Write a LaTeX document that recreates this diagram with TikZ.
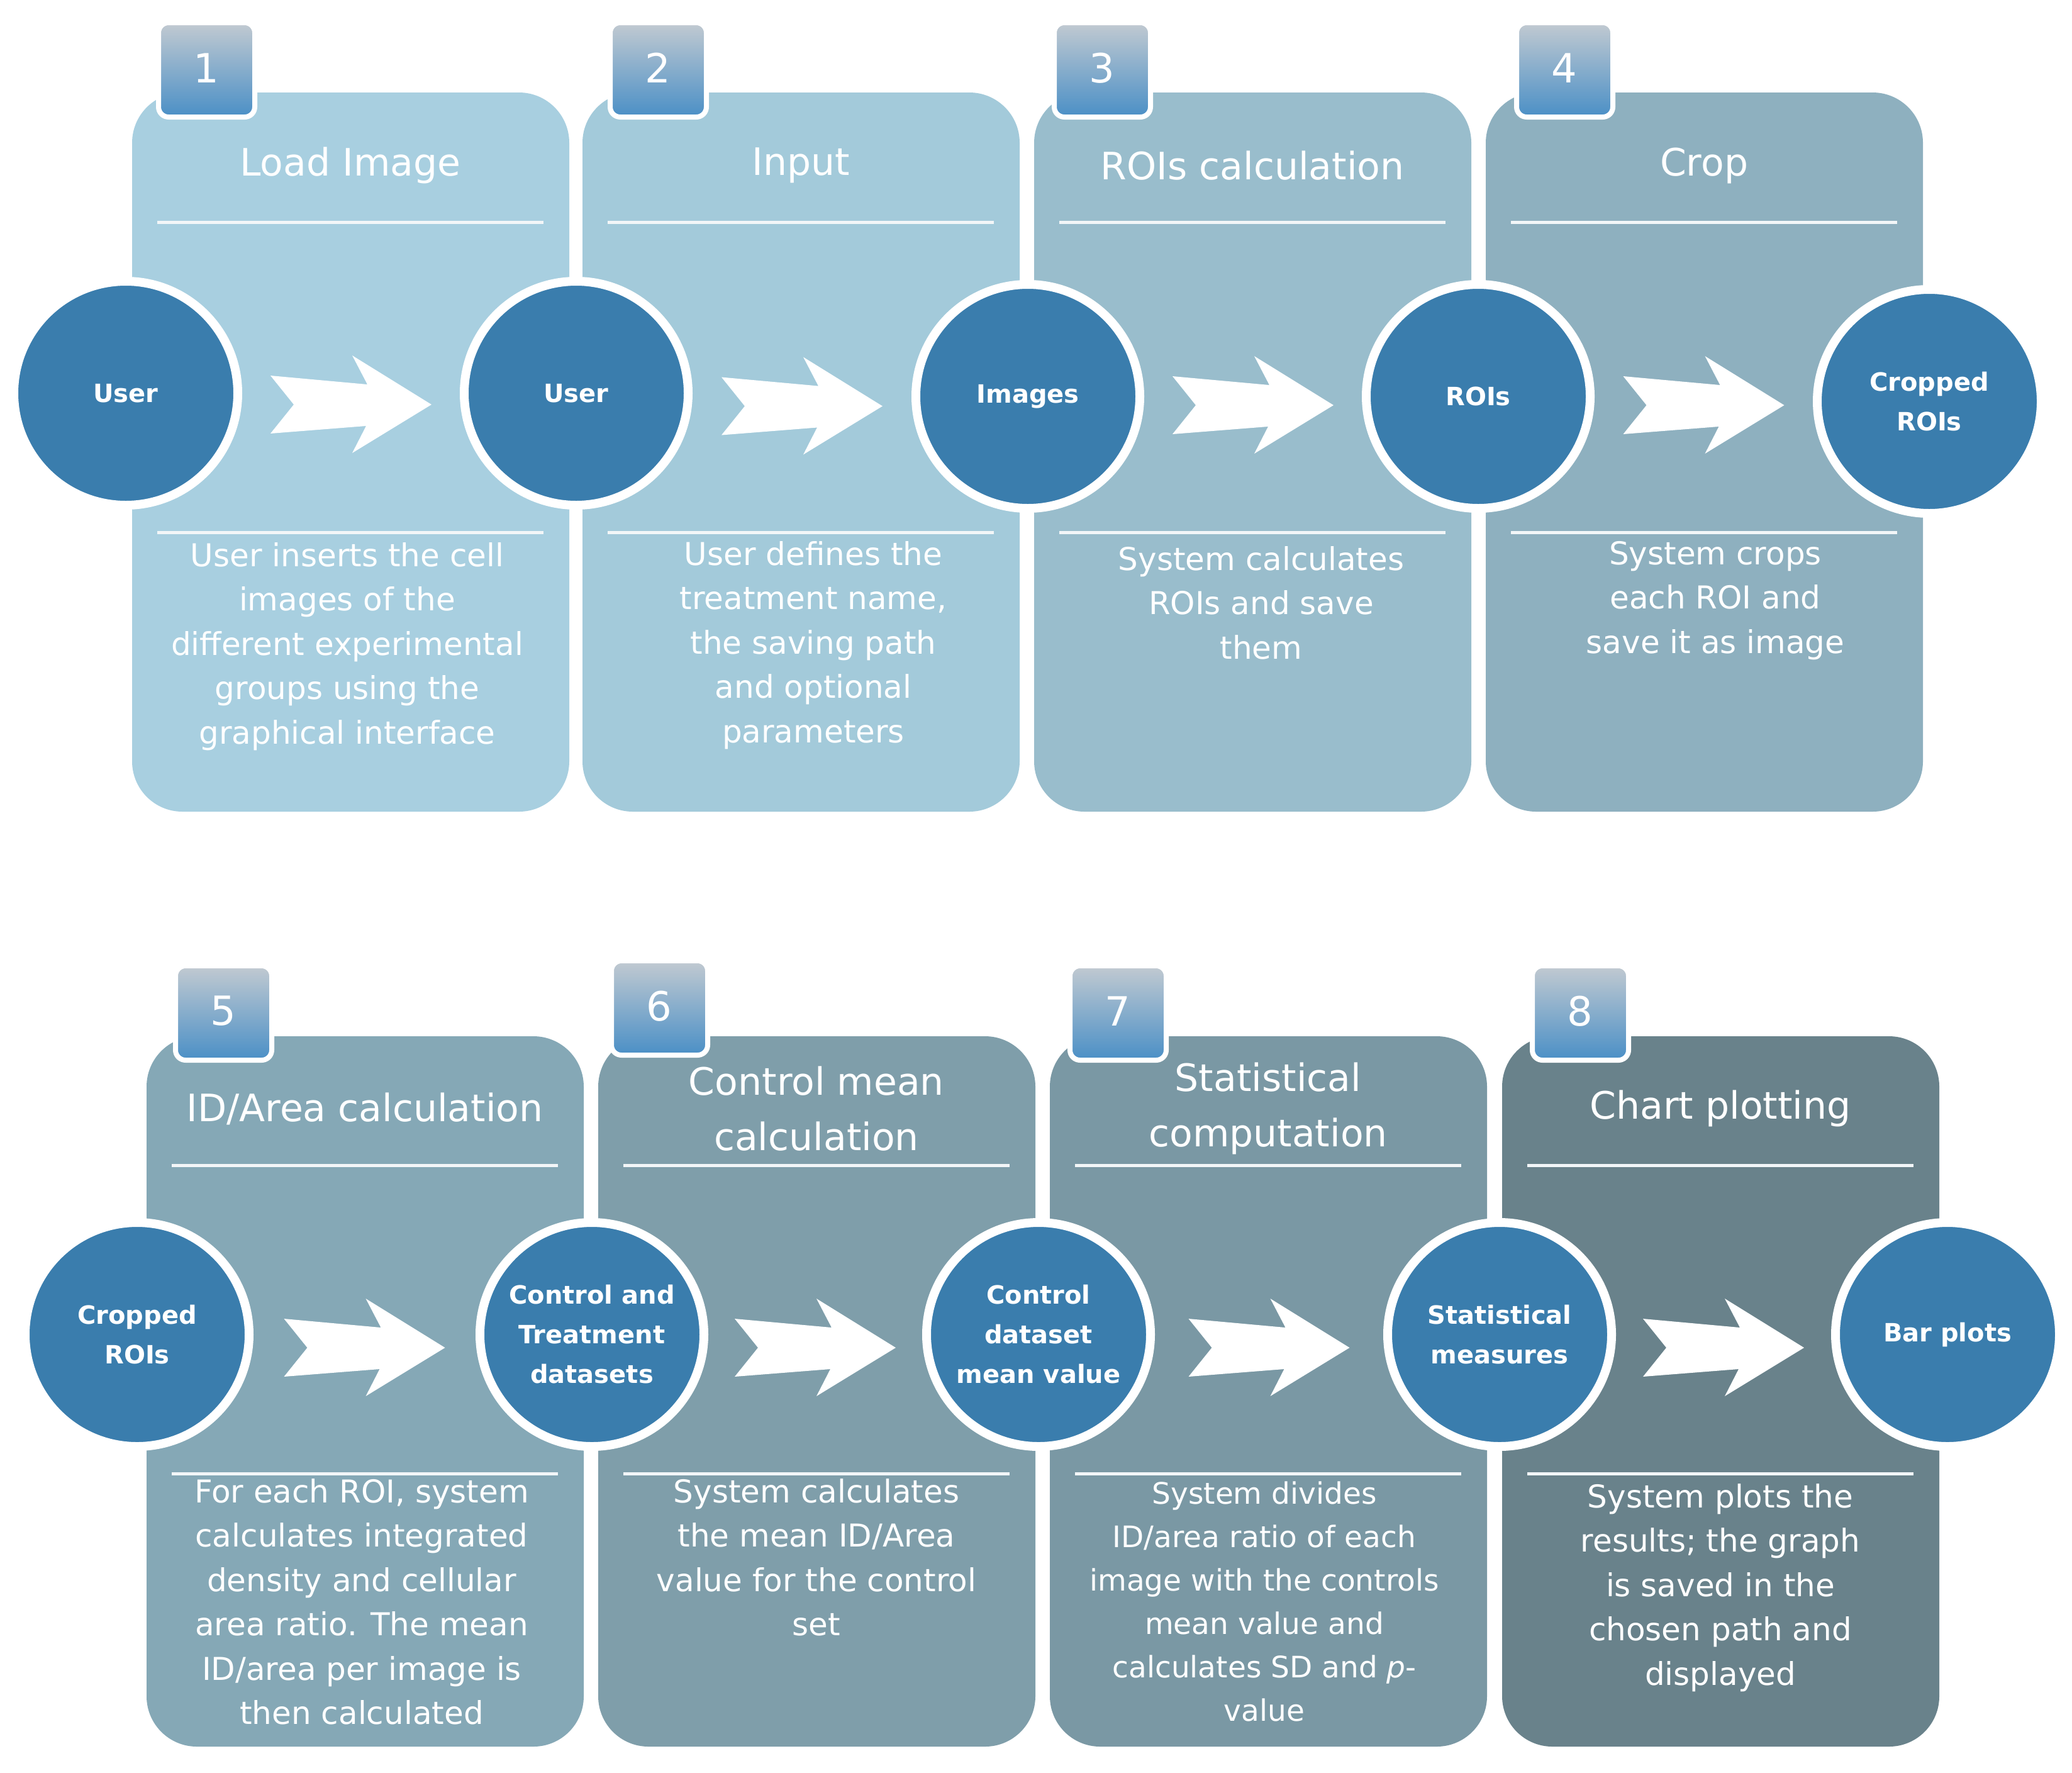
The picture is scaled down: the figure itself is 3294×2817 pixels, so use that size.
\documentclass[tikz,border=0pt]{standalone}
\usepackage{fontspec}
\setmainfont{DejaVu Sans}
\usetikzlibrary{calc}
\definecolor{pA}{HTML}{A8CFE0}
\definecolor{pB}{HTML}{A3CADA}
\definecolor{pC}{HTML}{99BDCC}
\definecolor{pD}{HTML}{8EB0BF}
\definecolor{pE}{HTML}{85A8B6}
\definecolor{pF}{HTML}{7F9EAA}
\definecolor{pG}{HTML}{7A98A4}
\definecolor{pH}{HTML}{69828B}
\definecolor{circ}{HTML}{3A7DAD}
\definecolor{tabtop}{HTML}{C2CAD1}
\definecolor{tabbot}{HTML}{4A8FC6}
\definecolor{rule}{HTML}{F2F6F8}
\tikzset{
  x=1pt,y=-1pt,
  panel/.style={fill=#1,draw=none,rounded corners=80pt},
  tab/.style={top color=tabtop,bottom color=tabbot,draw=white,line width=8pt,rounded corners=16pt},
  tabnum/.style={text=white,font=\fontsize{64}{64}\selectfont,inner sep=0pt},
  ttl/.style={text=white,font=\fontsize{60}{88}\selectfont,align=center,inner sep=0pt},
  rl/.style={draw=rule,line width=5pt},
  circ/.style={circle,fill=circ,draw=white,line width=14pt,minimum size=356pt,inner sep=0pt,
    text=white,font=\bfseries\fontsize{40}{63}\selectfont,align=center},
  desc/.style={text=white,font=\fontsize{50}{70.5}\selectfont,align=center,inner sep=0pt,anchor=north},
  chev/.style={fill=white,draw=none}
}
\newcommand{\chevron}[1]{%
  \fill[white] ($#1+(-128,-46)$) -- ++(37,46) -- ++(-37,46) -- ++(152,-12) -- ++(-22,43)
    -- ++(126,-77) -- ++(-126,-78) -- ++(24,46) -- cycle;}
\begin{document}
\begin{tikzpicture}
\useasboundingbox (0,0) rectangle (3294,2817);
% ---------- row 1 panels
\path[panel=pA] (210,147) rectangle (905,1290);
\path[panel=pB] (926,147) rectangle (1621,1290);
\path[panel=pC] (1644,147) rectangle (2339,1290);
\path[panel=pD] (2362,147) rectangle (3057,1290);
% ---------- row 2 panels
\path[panel=pE] (233,1647) rectangle (928,2776);
\path[panel=pF] (951,1647) rectangle (1646,2776);
\path[panel=pG] (1669,1647) rectangle (2364,2776);
\path[panel=pH] (2388,1647) rectangle (3083,2776);
% ---------- tabs
\draw[tab] (252,36) rectangle (405,186);  \node[tabnum] (n1) at (328,108) {1};
\draw[tab] (970,36) rectangle (1123,186); \node[tabnum] (n2) at (1046,108) {2};
\draw[tab] (1676,36) rectangle (1829,186);\node[tabnum] (n3) at (1752,108) {3};
\draw[tab] (2411,36) rectangle (2564,186);\node[tabnum] (n4) at (2487,108) {4};
\draw[tab] (279,1535) rectangle (432,1685); \node[tabnum] (n5) at (355,1607) {5};
\draw[tab] (972,1527) rectangle (1125,1677);\node[tabnum] (n6) at (1048,1599) {6};
\draw[tab] (1701,1535) rectangle (1854,1685);\node[tabnum] (n7) at (1777,1607) {7};
\draw[tab] (2436,1535) rectangle (2589,1685);\node[tabnum] (n8) at (2512,1607) {8};
% ---------- titles
\node[ttl] (t1) at (557,263) {Load Image};
\node[ttl] (t2) at (1273,263) {Input};
\node[ttl] (t3) at (1991,263) {ROIs calculation};
\node[ttl] (t4) at (2709,263) {Crop};
\node[ttl] (t5) at (580,1762) {ID/Area calculation};
\node[ttl] (t6) at (1298,1762) {Control mean\\calculation};
\node[ttl] (t7) at (2016,1762) {Statistical\\computation};
\node[ttl] (t8) at (2735,1762) {Chart plotting};
% ---------- rules
\foreach \a in {210,926,1644,2362}{
  \draw[rl] (\a+40,353) -- (\a+654,353);
  \draw[rl] (\a+40,846) -- (\a+654,846);}
\foreach \a in {233,951,1669,2388}{
  \draw[rl] (\a+40,1852) -- (\a+654,1852);
  \draw[rl] (\a+40,2342) -- (\a+654,2342);}
% ---------- circles
\node[circ] (c1) at (200,625) {User};
\node[circ] (c2) at (916,625) {User};
\node[circ] (c3) at (1634,630) {Images};
\node[circ] (c4) at (2350,630) {ROIs};
\node[circ] (c5) at (3067,638) {Cropped\\ROIs};
\node[circ] (d1) at (218,2121) {Cropped\\ROIs};
\node[circ] (d2) at (941,2121) {Control and\\Treatment\\datasets};
\node[circ] (d3) at (1651,2121) {Control\\dataset\\mean value};
\node[circ] (d4) at (2384,2121) {Statistical\\measures};
\node[circ] (d5) at (3096,2121) {Bar plots};
% ---------- arrows
\chevron{($(c1)!0.5!(c2)+(0,18)$)}
\chevron{($(c2)!0.5!(c3)+(0,18)$)}
\chevron{($(c3)!0.5!(c4)+(0,14)$)}
\chevron{($(c4)!0.5!(c5)+(0,10)$)}
\chevron{($(d1)!0.5!(d2)+(0,21)$)}
\chevron{($(d2)!0.5!(d3)+(0,21)$)}
\chevron{($(d3)!0.5!(d4)+(0,21)$)}
\chevron{($(d4)!0.5!(d5)+(0,21)$)}
% ---------- descriptions
\node[desc] (e1) at (552,862) {User inserts the cell\\images of the\\different experimental\\groups using the\\graphical interface};
\node[desc] (e2) at (1293,860) {User defines the\\treatment name,\\the saving path\\and optional\\parameters};
\node[desc] (e3) at (2005,868) {System calculates\\ROIs and save\\them};
\node[desc] (e4) at (2727,860) {System crops\\each ROI and\\save it as image};
\node[desc] (f1) at (575,2350) {For each ROI, system\\calculates integrated\\density and cellular\\area ratio. The mean\\ID/area per image is\\then calculated};
\node[desc] (f2) at (1298,2350) {System calculates\\the mean ID/Area\\value for the control\\set};
\node[desc,font=\fontsize{47}{69}\selectfont] (f3) at (2010,2355) {System divides\\ID/area ratio of each\\image with the controls\\mean value and\\calculates SD and \textit{p}-\\value};
\node[desc] (f4) at (2735,2358) {System plots the\\results; the graph\\is saved in the\\chosen path and\\displayed};
\end{tikzpicture}
\end{document}
